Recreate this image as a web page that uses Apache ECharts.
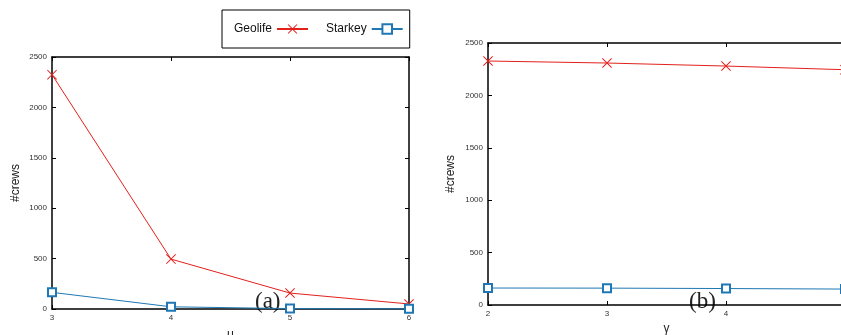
<!DOCTYPE html>
<html>
<head>
<meta charset="utf-8">
<script src="https://cdn.jsdelivr.net/npm/echarts@6/dist/echarts.min.js"></script>
<style>
html, body { margin: 0; padding: 0; background: #fff; }
#chart { width: 841px; height: 335px; }
</style>
</head>
<body>
<div id="chart"></div>
<script>
// (a) varying mu
var muValues = [3, 4, 5, 6];
var geolifeByMu = [2325, 495, 158, 50];
var starkeyByMu = [165, 22, 4, 2];

// (b) varying gamma
var gammaValues = [2, 3, 4, 5];
var geolifeByGamma = [2328, 2309, 2280, 2245];
var starkeyByGamma = [162, 161, 157, 152];

var RED = '#e3211c';
var BLUE = '#1f78b4';
var crossPath = 'path://M0,0.7L0.7,0L5,4.3L9.3,0L10,0.7L5.7,5L10,9.3L9.3,10L5,5.7L0.7,10L0,9.3L4.3,5Z';

function pairs(xs, ys) {
    var out = [];
    for (var i = 0; i < xs.length; i++) {
        out.push([xs[i], ys[i]]);
    }
    return out;
}

function plain(v) {
    return String(v);
}

function xAxisCfg(grid, min, max, name, gap, main) {
    return {
        type: 'value', gridIndex: grid, min: min, max: max, interval: 1,
        position: main ? 'bottom' : 'top',
        name: main ? name : '', nameLocation: 'middle', nameGap: gap,
        nameTextStyle: { fontFamily: 'Liberation Sans', fontSize: 12, color: '#222' },
        axisLine: { show: true, onZero: false, lineStyle: { color: '#000', width: 1.5 } },
        axisTick: { show: true, inside: true, length: 4, lineStyle: { color: '#000' } },
        axisLabel: { show: main, fontFamily: 'Liberation Sans', fontSize: 8, color: '#333', margin: 5, formatter: plain },
        splitLine: { show: false }
    };
}

function yAxisCfg(grid, main, gap) {
    return {
        type: 'value', gridIndex: grid, min: 0, max: 2500, interval: 500,
        position: main ? 'left' : 'right',
        name: main ? '#crews' : '', nameLocation: 'middle', nameRotate: 90, nameGap: gap,
        nameTextStyle: { fontFamily: 'Liberation Sans', fontSize: 12, color: '#222' },
        axisLine: { show: true, onZero: false, lineStyle: { color: '#000', width: 1.5 } },
        axisTick: { show: true, inside: true, length: 4, lineStyle: { color: '#000' } },
        axisLabel: { show: main, fontFamily: 'Liberation Sans', fontSize: 8, color: '#333', margin: 5, formatter: plain },
        splitLine: { show: false }
    };
}

function geoSeries(xi, yi, data) {
    return {
        name: 'Geolife', type: 'line', xAxisIndex: xi, yAxisIndex: yi, data: data,
        symbol: crossPath, symbolSize: 10, color: RED,
        lineStyle: { color: RED, width: 1 }, itemStyle: { color: RED },
        animation: false, clip: false
    };
}

function starSeries(xi, yi, data) {
    return {
        name: 'Starkey', type: 'line', xAxisIndex: xi, yAxisIndex: yi, data: data,
        symbol: 'emptyRect', symbolSize: 8, color: BLUE,
        lineStyle: { color: BLUE, width: 1 }, itemStyle: { color: BLUE, borderWidth: 1.2 },
        animation: false, clip: false
    };
}

var chart = echarts.init(document.getElementById('chart'));
var option = {
    backgroundColor: '#fff',
    animation: false,
    grid: [
        { left: 52, top: 57, width: 357, height: 252, outerBoundsMode: 'none', containLabel: false },
        { left: 488, top: 43, width: 357, height: 262, outerBoundsMode: 'none', containLabel: false }
    ],
    legend: {
        left: 222, top: 10, align: 'right',
        padding: [13, 6, 13, 12],
        itemWidth: 31, itemHeight: 12, itemGap: 17,
        borderColor: '#000', borderWidth: 1,
        textStyle: { fontFamily: 'Liberation Sans', fontSize: 12, color: '#111' },
        data: ['Geolife', 'Starkey']
    },
    xAxis: [
        xAxisCfg(0, 3, 6, 'μ', 20, true),
        xAxisCfg(0, 3, 6, '', 0, false),
        xAxisCfg(1, 2, 5, 'γ', 17, true),
        xAxisCfg(1, 2, 5, '', 0, false)
    ],
    yAxis: [
        yAxisCfg(0, true, 30),
        yAxisCfg(0, false, 0),
        yAxisCfg(1, true, 31),
        yAxisCfg(1, false, 0)
    ],
    series: [
        geoSeries(0, 0, pairs(muValues, geolifeByMu)),
        starSeries(0, 0, pairs(muValues, starkeyByMu)),
        geoSeries(2, 2, pairs(gammaValues, geolifeByGamma)),
        starSeries(2, 2, pairs(gammaValues, starkeyByGamma))
    ],
    graphic: [
        { type: 'text', left: 255, top: 290,
          style: { text: '(a)', font: '23px "Liberation Serif"', fill: '#222' } },
        { type: 'text', left: 689, top: 290,
          style: { text: '(b)', font: '23px "Liberation Serif"', fill: '#222' } }
    ]
};
chart.setOption(option);
</script>
</body>
</html>
